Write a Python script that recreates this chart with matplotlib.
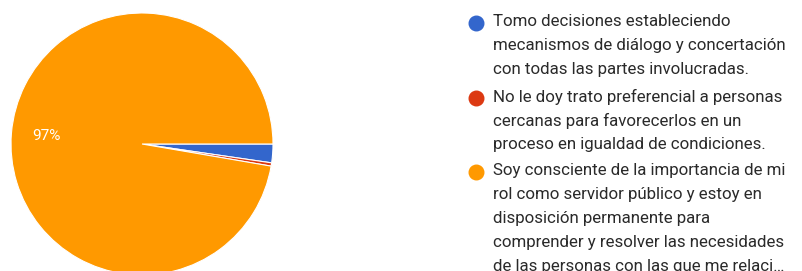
import matplotlib
matplotlib.use('Agg')
import matplotlib.pyplot as plt

plt.rcParams['font.family'] = ['Roboto', 'DejaVu Sans']

# Data
categories = [
    "Tomo decisiones estableciendo\nmecanismos de diálogo y concertación\ncon todas las partes involucradas.",
    "No le doy trato preferencial a personas\ncercanas para favorecerlos en un\nproceso en igualdad de condiciones.",
    "Soy consciente de la importancia de mi\nrol como servidor público y estoy en\ndisposición permanente para\ncomprender y resolver las necesidades\nde las personas con las que me relaci…",
]
values = [2.3, 0.4, 97.3]
colors = ['#3366cc', '#dc3912', '#ff9900']

W, H = 802, 271
fig = plt.figure(figsize=(W / 100, H / 100), dpi=100)
ax = fig.add_axes([0, 0, 1, 1])


def pct_label(p):
    return f"{p:.0f}%" if p > 5 else ''


wedges, texts, autotexts = ax.pie(
    values, colors=colors, startangle=0, counterclock=False,
    center=(142, H - 144), radius=131, autopct=pct_label,
    pctdistance=0.73, wedgeprops=dict(edgecolor='white', linewidth=0.8),
    textprops=dict(color='white', fontsize=11))

ax.set_xlim(0, W)
ax.set_ylim(0, H)
ax.set_aspect('auto')
ax.axis('off')

# legend drawn by hand (wrapped labels)
marker_y = [23, 98, 172]
line_gap = 23.8
for label, col, my in zip(categories, colors, marker_y):
    ax.scatter([476], [H - my], s=110, color=col, zorder=3)
    for i, line in enumerate(label.split('\n')):
        ax.text(493, H - (my - 1) - i * line_gap, line, fontsize=12.2,
                color='#2a2a2a', va='center', ha='left')

fig.savefig('out.png', dpi=100)
